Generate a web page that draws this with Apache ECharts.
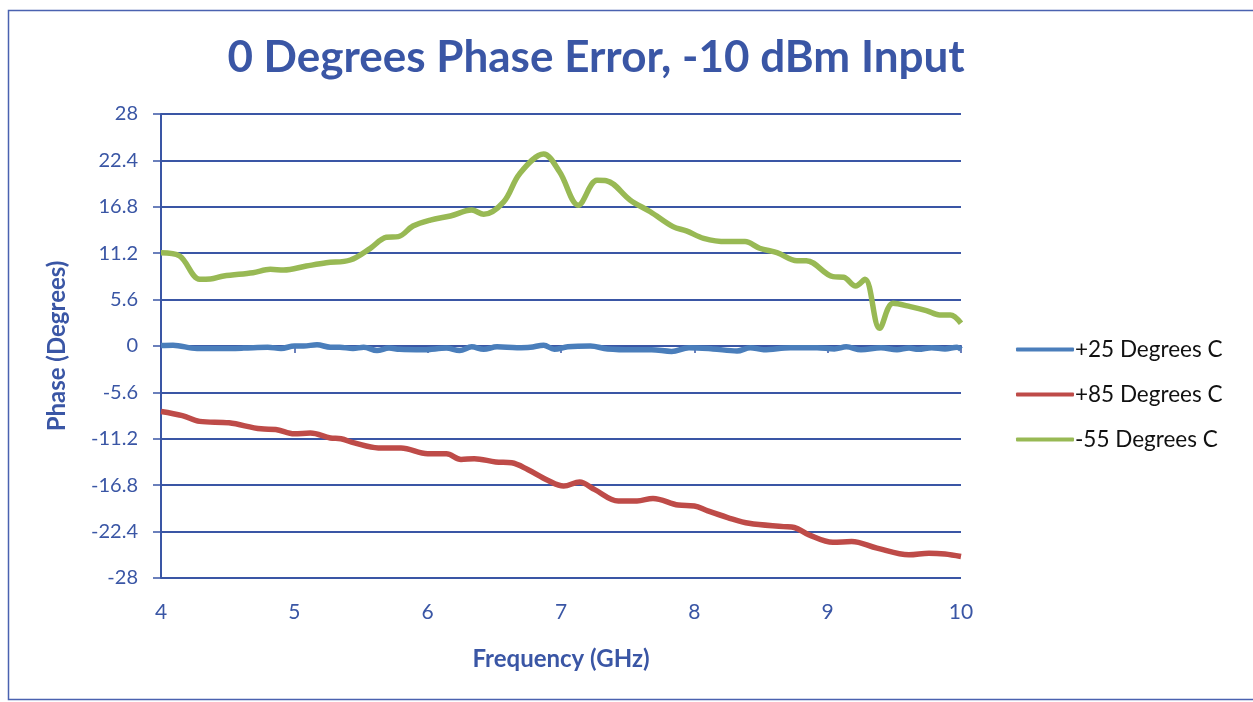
<!DOCTYPE html>
<html><head><meta charset="utf-8">
<script src="https://cdn.jsdelivr.net/npm/echarts@6/dist/echarts.min.js"></script>
<style>html,body{margin:0;padding:0;background:#fff}#c{width:1253px;height:702px}</style>
</head><body><div id="c"></div>
<script>
const seriesNames = ['+25 Degrees C', '+85 Degrees C', '-55 Degrees C'];
const yTicks = [-28, -22.4, -16.8, -11.2, -5.6, 0, 5.6, 11.2, 16.8, 22.4, 28];
const xTicks = [4, 5, 6, 7, 8, 9, 10];

const freq25 = [4.0,4.09,4.27,4.45,4.62,4.8,4.9,5.0,5.07,5.17,5.27,5.34,5.44,5.52,5.62,5.71,5.79,5.97,6.14,6.24,6.33,6.42,6.52,6.67,6.77,6.87,6.95,7.05,7.22,7.35,7.55,7.68,7.83,7.96,8.14,8.32,8.42,8.52,8.72,8.92,9.05,9.14,9.25,9.40,9.52,9.61,9.68,9.78,9.88,9.97,10.0];
const val25 = [0.05,0.1,-0.3,-0.3,-0.25,-0.15,-0.3,0,0,0.15,-0.15,-0.15,-0.3,-0.15,-0.55,-0.25,-0.4,-0.45,-0.25,-0.55,-0.1,-0.4,-0.1,-0.2,-0.15,0.1,-0.4,-0.1,0,-0.35,-0.45,-0.45,-0.65,-0.2,-0.35,-0.6,-0.2,-0.45,-0.2,-0.2,-0.35,-0.1,-0.45,-0.2,-0.45,-0.25,-0.4,-0.2,-0.35,-0.15,-0.4];

const freq85 = [4.0,4.16,4.29,4.51,4.75,4.86,5.0,5.12,5.27,5.35,5.45,5.63,5.80,6.0,6.14,6.25,6.35,6.51,6.63,6.75,6.90,7.02,7.14,7.25,7.43,7.57,7.69,7.88,8.0,8.10,8.25,8.41,8.67,8.75,8.86,9.04,9.18,9.37,9.61,9.76,9.88,10.0];
const val85 = [-7.9,-8.4,-9.1,-9.27,-10.0,-10.07,-10.6,-10.5,-11.1,-11.2,-11.7,-12.3,-12.3,-13.0,-13.0,-13.7,-13.6,-14.0,-14.1,-14.9,-16.2,-16.9,-16.4,-17.3,-18.7,-18.7,-18.4,-19.2,-19.3,-19.9,-20.7,-21.4,-21.8,-21.9,-22.8,-23.7,-23.6,-24.4,-25.2,-25.0,-25.1,-25.4];

const freq55 = [4.0,4.14,4.29,4.37,4.47,4.69,4.82,4.92,5.09,5.24,5.42,5.57,5.69,5.78,5.89,6.02,6.17,6.33,6.42,6.57,6.69,6.87,6.99,7.13,7.27,7.34,7.52,7.67,7.84,7.94,8.07,8.24,8.38,8.49,8.62,8.77,8.84,9.04,9.12,9.21,9.28,9.39,9.49,9.62,9.74,9.84,9.92,10.0];
const val55 = [11.26,10.86,8.05,8.08,8.45,8.85,9.25,9.17,9.65,10.05,10.38,11.79,13.12,13.2,14.48,15.2,15.69,16.4,15.9,17.4,20.8,23.17,21.0,17.0,20.0,19.95,17.6,16.2,14.4,13.9,13.0,12.6,12.6,11.8,11.27,10.3,10.3,8.37,8.3,7.24,8.05,2.13,5.15,4.75,4.27,3.74,3.74,2.74];

const colors = ['#4a7ebb', '#be4b48', '#98b954'];
const blue = '#3a56a5';

function pairs(xs, ys) { return xs.map((x, i) => [x, ys[i]]); }
const allData = [pairs(freq25, val25), pairs(freq85, val85), pairs(freq55, val55)];

const chart = echarts.init(document.getElementById('c'));
chart.setOption({
  animation: false,
  backgroundColor: '#fff',
  title: {
    text: '0 Degrees Phase Error, -10 dBm Input',
    left: 591, top: 31, textAlign: 'center',
    textStyle: { color: blue, fontSize: 44, fontWeight: 'bold', fontFamily: 'Lato' }
  },
  graphic: [{
    type: 'rect', shape: { x: 8.5, y: 10.5, width: 1260, height: 689 },
    style: { fill: 'none', stroke: '#4a62b0', lineWidth: 1.5 }, silent: true
  }],
  legend: {
    orient: 'vertical', left: 1011, top: 333,
    itemWidth: 58, itemHeight: 4, itemGap: 22,
    icon: 'roundRect',
    textStyle: { color: '#111', fontSize: 22.5, fontFamily: 'Lato', padding: [0, 0, 0, -4] },
    data: seriesNames
  },
  grid: { left: 161, right: 292, top: 114, bottom: 124 },
  xAxis: {
    type: 'value', min: xTicks[0], max: xTicks[xTicks.length - 1], interval: 1,
    name: 'Frequency (GHz)', nameLocation: 'middle', nameGap: 69,
    nameTextStyle: { color: blue, fontSize: 24, fontWeight: 'bold', fontFamily: 'Lato' },
    axisLine: { lineStyle: { color: blue, width: 2 } },
    axisTick: { show: true, length: 7, lineStyle: { color: blue, width: 1.5 } },
    axisLabel: { color: blue, fontSize: 21, fontFamily: 'Lato', margin: 24 },
    splitLine: { show: false }
  },
  yAxis: {
    type: 'value', min: yTicks[0], max: yTicks[yTicks.length - 1], interval: 5.6,
    name: 'Phase (Degrees)', nameLocation: 'middle', nameGap: 92, nameRotate: 90,
    nameTextStyle: { color: blue, fontSize: 24, fontWeight: 'bold', fontFamily: 'Lato' },
    axisLine: { show: true, lineStyle: { color: blue, width: 2 } },
    axisTick: { show: true, length: 8, lineStyle: { color: blue, width: 1.5 } },
    axisLabel: { color: blue, fontSize: 20, fontFamily: 'Lato', margin: 23,
      formatter: v => { const t = yTicks.find(t => Math.abs(t - v) < 1e-6); return t === undefined ? '' : String(t); } },
    splitLine: { show: true, lineStyle: { color: blue, width: 2 } }
  },
  series: seriesNames.map((n, i) => ({
    name: n, type: 'line', data: allData[i], smooth: 0.35, showSymbol: false,
    lineStyle: { color: colors[i], width: 5.5 }, itemStyle: { color: colors[i] }
  }))
});
</script></body></html>
